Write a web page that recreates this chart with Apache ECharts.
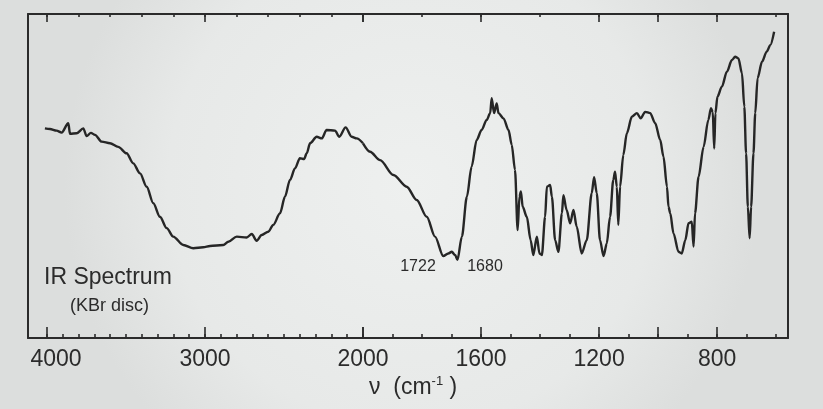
<!DOCTYPE html>
<html><head><meta charset="utf-8">
<script src="https://cdn.jsdelivr.net/npm/echarts@6/dist/echarts.min.js"></script>
<style>html,body{margin:0;padding:0;background:#e6e8e7}#c{width:823px;height:409px}</style>
</head><body><div id="c"></div>
<script>
// wavenumber (cm^-1)
const wavenumbers = [4013,3981,3939,3907,3865,3854,3812,3770,3749,3722,3696,3654,3601,3549,3496,3454,3411,3369,3327,3285,3242,3201,3137,3074,3011,2968,2884,2852,2799,2736,2704,2673,2641,2599,2568,2525,2494,2462,2430,2399,2373,2356,2335,2293,2261,2230,2177,2150,2110,2072,2040,2000,
1976,1942,1897,1852,1818,1784,1756,1728,1711,1699,1688,1680,1665,1648,1632,1615,1598,1581,1569,1564,1556,1547,1541,1524,1507,1496,1485,1476,1470,1465,1459,1445,1432,1423,1411,1402,1394,1383,1377,1366,1360,1349,1338,1326,1321,1310,1298,1287,1276,1259,1242,1225,1217,1208,1197,1185,1174,1163,1152,1146,1140,1135,1129,1118,1106,1089,1072,1059,1044,1027,1010,993,982,970,965,959,948,931,920,908,897,886,880,875,863,846,830,821,815,810,806,799,784,767,750,739,728,716,708,702,696,690,685,677,671,663,648,632,620,607];
// transmittance (%)
const transmittance = [64.7,64.5,64.0,63.4,66.3,63.0,63.2,64.7,62.3,63.3,62.7,60.6,60.1,59.0,57.0,53.9,50.8,46.7,41.6,37.4,33.9,31.3,28.7,27.7,28.0,28.4,28.7,29.7,31.3,31.0,32.1,30.0,31.8,32.8,34.9,38.5,43.6,48.8,52.4,55.5,55.2,57.0,60.1,62.1,61.6,64.2,64.0,62.1,65.0,62.1,61.6,60.1,
57.5,54.9,50.3,46.7,42.6,37.4,31.3,25.3,26.1,26.6,25.6,24.1,31.3,43.6,52.9,61.1,64.2,67.3,69.4,74.0,69.4,72.4,69.4,67.8,64.2,59.6,51.9,33.3,43.6,45.2,40.5,37.4,30.2,25.6,31.3,26.1,25.6,37.4,46.7,47.2,43.6,30.2,26.6,38.5,44.1,39.5,35.4,39.5,34.4,26.1,30.2,44.7,49.6,44.7,30.2,25.3,29.2,37.4,48.8,51.3,46.7,34.9,46.7,56.5,63.2,68.3,69.4,67.8,69.8,69.4,66.3,61.1,56.0,46.7,40.5,38.5,32.3,26.6,26.1,30.2,35.4,35.9,28.2,38.5,49.8,59.0,67.3,70.9,69.8,58.5,69.4,74.5,77.6,82.2,85.8,86.8,86.3,81.7,71.4,57.0,40.5,30.8,40.5,57.0,69.4,80.2,85.3,88.4,90.4,94.5];

const tickLabels = [4000, 3000, 2000, 1600, 1200, 800];
const majorTicksBottom = [4000, 3000, 2000, 1600, 1200, 1000, 800];
const majorTicksTop = [4000, 3000, 2000, 1600, 1200, 1000, 800];
const peakLabels = ['1722', '1680'];
const titleText = 'IR Spectrum';
const subtitleText = '(KBr disc)';

function range(a, b, step) { const r = []; for (let v = a; v <= b; v += step) r.push(v); return r; }
const minorTicksBottom = range(600, 4000, 100);
const minorTicksTop = range(600, 4000, 200);

const ink = '#2b2b2b';
const font = "'Liberation Sans', Arial, sans-serif";
const highMin = 2000, highMax = 4120, lowMin = 560, lowMax = 2000;

const highData = [], lowData = [];
wavenumbers.forEach((w, i) => {
  if (w >= 2000) highData.push([w, transmittance[i]]);
  if (w <= 2000) lowData.push([w, transmittance[i]]);
});

function inRange(arr, lo, hi) { return arr.filter(v => v >= lo && v <= hi); }

function xAxesFor(grid, min, max, labelHi) {
  const base = { gridIndex: grid, type: 'value', min, max, inverse: true, splitLine: { show: false } };
  const tickStyle = { color: ink, width: 1.6 };
  return [
    Object.assign({}, base, { position: 'bottom',
      axisLine: { show: true, onZero: false, lineStyle: { color: ink, width: 2 } },
      axisTick: { show: true, inside: true, length: 4, customValues: inRange(minorTicksBottom, min, max), lineStyle: tickStyle },
      axisLabel: { show: false } }),
    Object.assign({}, base, { position: 'bottom',
      axisLine: { show: false, onZero: false },
      axisTick: { show: true, inside: true, length: 11, customValues: inRange(majorTicksBottom, min, max), lineStyle: tickStyle },
      axisLabel: { show: true, customValues: inRange(tickLabels, min, labelHi), margin: 10, hideOverlap: false,
        color: ink, fontSize: 23, fontFamily: font,
        formatter: v => v === 4000 ? '{r|4000}' : String(v),
        rich: { r: { fontSize: 23, fontFamily: font, color: ink, padding: [0, 0, 0, 18] } } } }),
    Object.assign({}, base, { position: 'top',
      axisLine: { show: true, onZero: false, lineStyle: { color: ink, width: 2 } },
      axisTick: { show: true, inside: true, length: 3, customValues: inRange(minorTicksTop, min, max), lineStyle: tickStyle },
      axisLabel: { show: false } }),
    Object.assign({}, base, { position: 'top',
      axisLine: { show: false, onZero: false },
      axisTick: { show: true, inside: true, length: 8, customValues: inRange(majorTicksTop, min, max), lineStyle: tickStyle },
      axisLabel: { show: false } })
  ];
}

const yBase = { type: 'value', min: 0, max: 100, splitLine: { show: false }, axisTick: { show: false }, axisLabel: { show: false } };

const chart = echarts.init(document.getElementById('c'), null, { renderer: 'canvas' });
chart.setOption({
  animation: false,
  backgroundColor: { type: 'radial', x: 0.5, y: 0.45, r: 0.85,
    colorStops: [{ offset: 0, color: '#eef0ef' }, { offset: 0.7, color: '#e7e9e8' }, { offset: 1, color: '#dcdedd' }] },
  grid: [
    { left: 28, top: 14, width: 335, height: 324 },
    { left: 363, top: 14, width: 425, height: 324 }
  ],
  xAxis: xAxesFor(0, highMin, highMax, highMax).concat(xAxesFor(1, lowMin, lowMax, lowMax - 1)),
  yAxis: [
    Object.assign({}, yBase, { gridIndex: 0, position: 'left', axisLine: { show: true, onZero: false, lineStyle: { color: ink, width: 2 } } }),
    Object.assign({}, yBase, { gridIndex: 1, position: 'right', axisLine: { show: true, onZero: false, lineStyle: { color: ink, width: 2 } } })
  ],
  series: [
    { type: 'line', xAxisIndex: 0, yAxisIndex: 0, data: highData, showSymbol: false, smooth: 0.3, smoothMonotone: 'x',
      lineStyle: { color: '#262626', width: 2.4 } },
    { type: 'line', xAxisIndex: 4, yAxisIndex: 1, data: lowData, showSymbol: false, smooth: 0.3, smoothMonotone: 'x',
      lineStyle: { color: '#262626', width: 2.4 } }
  ],
  graphic: [
    { type: 'text', x: 44, y: 278, style: { text: titleText, font: '23px ' + font, fill: ink, verticalAlign: 'middle' } },
    { type: 'text', x: 70, y: 306, style: { text: subtitleText, font: '18px ' + font, fill: ink, verticalAlign: 'middle' } },
    { type: 'text', x: 418, y: 267, style: { text: peakLabels[0], font: '16px ' + font, fill: ink, align: 'center', verticalAlign: 'middle' } },
    { type: 'text', x: 485, y: 267, style: { text: peakLabels[1], font: '16px ' + font, fill: ink, align: 'center', verticalAlign: 'middle' } },
    { type: 'text', x: 369, y: 388, style: {
        text: '{m|ν  (cm}{s|-1}{m| )}', verticalAlign: 'middle',
        rich: {
          m: { font: '23px ' + font, fill: ink, lineHeight: 26 },
          s: { font: '13px ' + font, fill: ink, lineHeight: 26, verticalAlign: 'top', padding: [0, 0, 12, 0] }
        } } }
  ]
});
</script>
</body></html>
